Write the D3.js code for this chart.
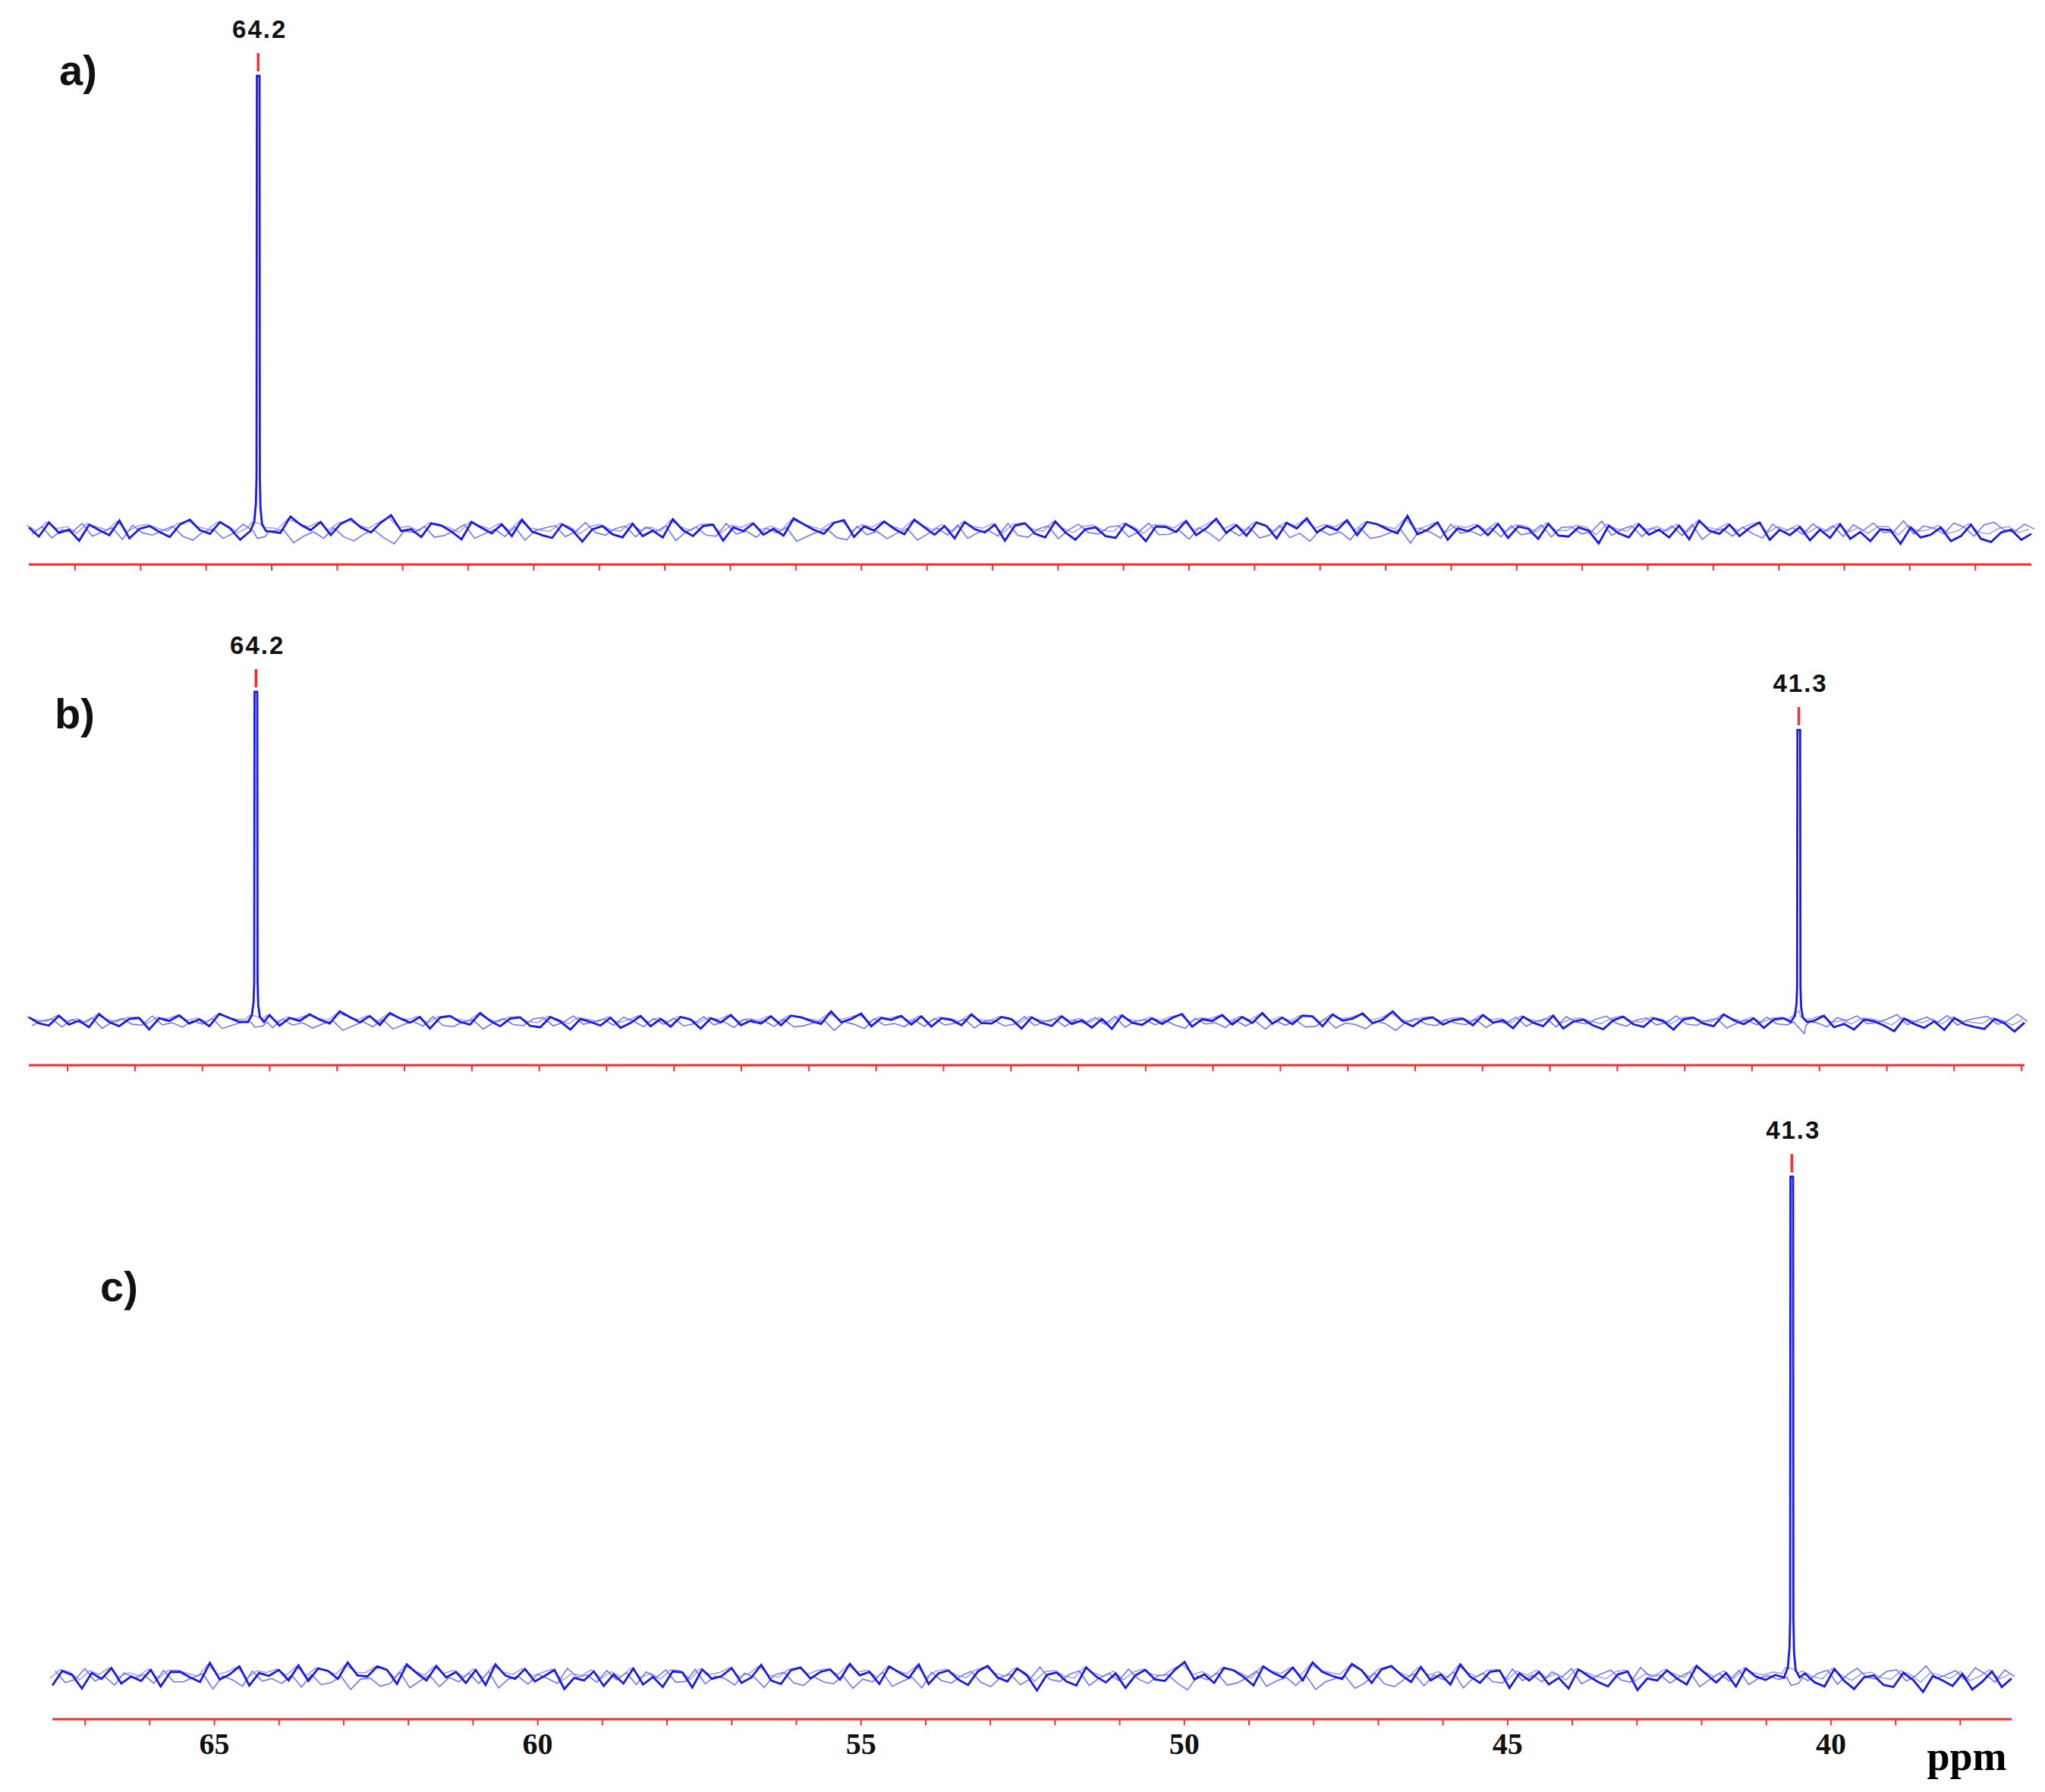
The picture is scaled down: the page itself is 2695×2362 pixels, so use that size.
<!DOCTYPE html>
<html><head><meta charset="utf-8">
<script src="https://cdn.jsdelivr.net/npm/d3@7"></script>
<style>body{margin:0;background:#fff}</style></head>
<body><svg id="c" width="2695" height="2362"></svg>
<script>
// ---- data ----
const panelNames = ["a)", "b)", "c)"];
const peakShiftsA = [64.2], peakHeightsA = [100], peakLabelsA = ["64.2"];
const peakShiftsB = [64.2, 41.3], peakHeightsB = [100, 88.5], peakLabelsB = ["64.2", "41.3"];
const peakShiftsC = [40.6], peakHeightsC = [100], peakLabelsC = ["41.3"];
const axisTickValues = [65, 60, 55, 50, 45, 40];
const axisTickLabels = ["65", "60", "55", "50", "45", "40"];
const peakProfile = [[-0.12,0],[-0.06,1.5],[-0.035,5],[-0.025,12],[-0.02,100],[0.02,100],[0.025,12],[0.035,6],[0.06,2],[0.12,0]];
const noise = [0.8,-1.2,1.9,-0.4,0.3,-2.1,1.4,0.2,-0.9,2.3,-1.6,0.5,1.1,-0.7,-1.8,0.9,2.0,-0.3,-1.1,1.5,0.1,-2.4,0.7,1.2,-0.6,-1.4,2.2,0.4,-0.8,1.0,
-1.9,0.6,1.7,-0.2,-1.3,0.9,2.5,-1.0,0.0,-1.7,1.3,0.8,-0.5,-2.2,1.6,0.3,-0.9,1.1,-1.5,2.1,0.2,-0.6,-1.2,1.8,0.5,-2.0,0.7,1.4,-0.4,-1.1,
1.9,-0.8,0.4,-1.6,2.4,0.0,-1.3,0.9,1.2,-2.3,0.6,-0.2,1.5,-1.0,0.3,-1.8,2.0,0.7,-0.5,-1.4,1.0,1.6,-2.1,0.2,-0.7,1.3,-0.3,-1.5,2.2,0.5,
-1.1,0.8,-1.9,1.7,0.1,-0.6,1.1,-2.4,0.9,1.4,-0.4,-1.2,2.3,-0.1,-1.7,0.6,1.0,-0.9,-1.3,1.8,0.4,-2.0,1.2,0.3,-0.8,1.6,-1.5,0.0,2.1,-1.0,
0.7,-1.6,1.3,0.5,-2.2,0.9,-0.3,1.9,-1.2,0.2,-0.7,1.5,-1.8,1.1,0.6,-0.5,-1.4,2.4,-0.9,0.1,1.7,-2.1,0.4,-0.2,1.0,-1.1,1.4,-1.7,0.8,0.3,
-1.3,2.0,-0.6,-0.8,1.2,0.5,-2.3,1.6,-0.1,-1.0,1.9,-0.4,0.7,-1.5,1.1,-1.9,2.2,0.0,-0.7,1.3,-1.2,0.6,1.8,-2.0,0.2,-0.3,1.5,-1.4,0.9,-0.9,
2.1,-1.1,0.4,-1.6,1.0,0.8,-2.2,1.4,-0.5,0.1,1.7,-1.3,-0.2,2.3,-0.8,-1.5,0.6,1.2,-1.0,0.3];
const drift = [0,0.5,1.0,0.4,-0.3,0.2,0.8,0.3,-0.2,0.6,0.9,0.2,-0.4,0.1,-0.6,-0.9];

// ---- layout ----
const L = [
 {name:0, shifts:peakShiftsA, heights:peakHeightsA, labels:peakLabelsA, dom:[67.7,37.14], xr:[38,2677], axisY:744, yB:700, yT:100, nOff:0, labelPos:[78,112], showLabels:false},
 {name:1, shifts:peakShiftsB, heights:peakHeightsB, labels:peakLabelsB, dom:[67.57,37.95], xr:[38,2668], axisY:1404, yB:1347, yT:912, nOff:57, labelPos:[72,960], showLabels:false},
 {name:2, shifts:peakShiftsC, heights:peakHeightsC, labels:peakLabelsC, dom:[67.5,37.2], xr:[69,2651], axisY:2266, yB:2211, yT:1551, nOff:121, labelPos:[132,1715], showLabels:true}
];
const svg = d3.select("#c");
const blue = "#1a1ae6", red = "#ff2a2a";

L.forEach(p => {
  const x = d3.scaleLinear().domain(p.dom).range(p.xr);
  const y = d3.scaleLinear().domain([0,100]).range([p.yB, p.yT]);
  const g = svg.append("g");
  const N = noise.length, step = (p.dom[0]-p.dom[1])/(N-1);
  let pts = [];
  for (let i=0;i<N;i++){
    const ppm = p.dom[0]-i*step;
    if (p.shifts.some(s=>Math.abs(s-ppm)<0.13)) continue;
    const dr = drift[Math.floor(i/(N/drift.length))%drift.length];
    pts.push([ppm, noise[(i+p.nOff)%N] + dr]);
  }
  p.shifts.forEach((s,k)=>peakProfile.forEach(([o,f])=>pts.push([s+o, f*p.heights[k]/100])));
  pts.sort((a,b)=>b[0]-a[0]);
  // texture layers
  g.append("path").attr("d", d3.line().x(d=>x(d[0])+4).y(d=>y(-d[1]*0.8))(pts.filter(d=>Math.abs(d[1])<5)))
    .attr("fill","none").attr("stroke","#5c5cf2").attr("stroke-width",1.6).attr("opacity",0.85);
  g.append("path").attr("d", d3.line().x(d=>x(d[0])-3).y(d=>y(d[1]*0.6+0.8))(pts.filter(d=>Math.abs(d[1])<5)))
    .attr("fill","none").attr("stroke","#7a7af5").attr("stroke-width",1.4).attr("opacity",0.8);
  g.append("path").attr("d", d3.line().x(d=>x(d[0])).y(d=>y(d[1]))(pts))
    .attr("fill","none").attr("stroke",blue).attr("stroke-width",2.8);
  // axis
  const axis = d3.axisBottom(x).tickValues(d3.range(Math.ceil(p.dom[1]), Math.floor(p.dom[0])+1)).tickSize(8).tickFormat("");
  const ag = g.append("g").attr("transform",`translate(0,${p.axisY})`).call(axis);
  ag.select(".domain").attr("stroke",red).attr("stroke-width",3).attr("d",`M${p.xr[0]},0H${p.xr[1]}`);
  ag.selectAll(".tick line").attr("stroke",red).attr("stroke-width",2);
  if (p.showLabels){
    const lab = d3.axisBottom(x).tickValues(axisTickValues).tickSize(0).tickFormat((d,i)=>axisTickLabels[i]).tickPadding(18);
    const lg = g.append("g").attr("transform",`translate(0,${p.axisY})`).call(lab);
    lg.select(".domain").remove();
    lg.selectAll("text").attr("font-family","Liberation Serif").attr("font-weight","bold").attr("font-size",40).attr("fill","#111");
    g.append("text").attr("x",2592).attr("y",2333).attr("text-anchor","middle").attr("font-family","Liberation Serif")
      .attr("font-weight","bold").attr("font-size",54).text("ppm");
  }
  p.shifts.forEach((s,k)=>{
    const top = y(p.heights[k]);
    g.append("line").attr("x1",x(s)).attr("x2",x(s)).attr("y1",top-30).attr("y2",top-6).attr("stroke",red).attr("stroke-width",3.5);
    g.append("text").attr("x",x(s)+2).attr("y",top-50).attr("text-anchor","middle").attr("font-family","Liberation Sans")
      .attr("font-weight","bold").attr("font-size",33).attr("letter-spacing",2).attr("fill","#111").text(p.labels[k]);
  });
  g.append("text").attr("x",p.labelPos[0]).attr("y",p.labelPos[1]).attr("font-family","Liberation Sans")
    .attr("font-weight","bold").attr("font-size",56).attr("fill","#111").text(panelNames[p.name]);
});
</script></body></html>
